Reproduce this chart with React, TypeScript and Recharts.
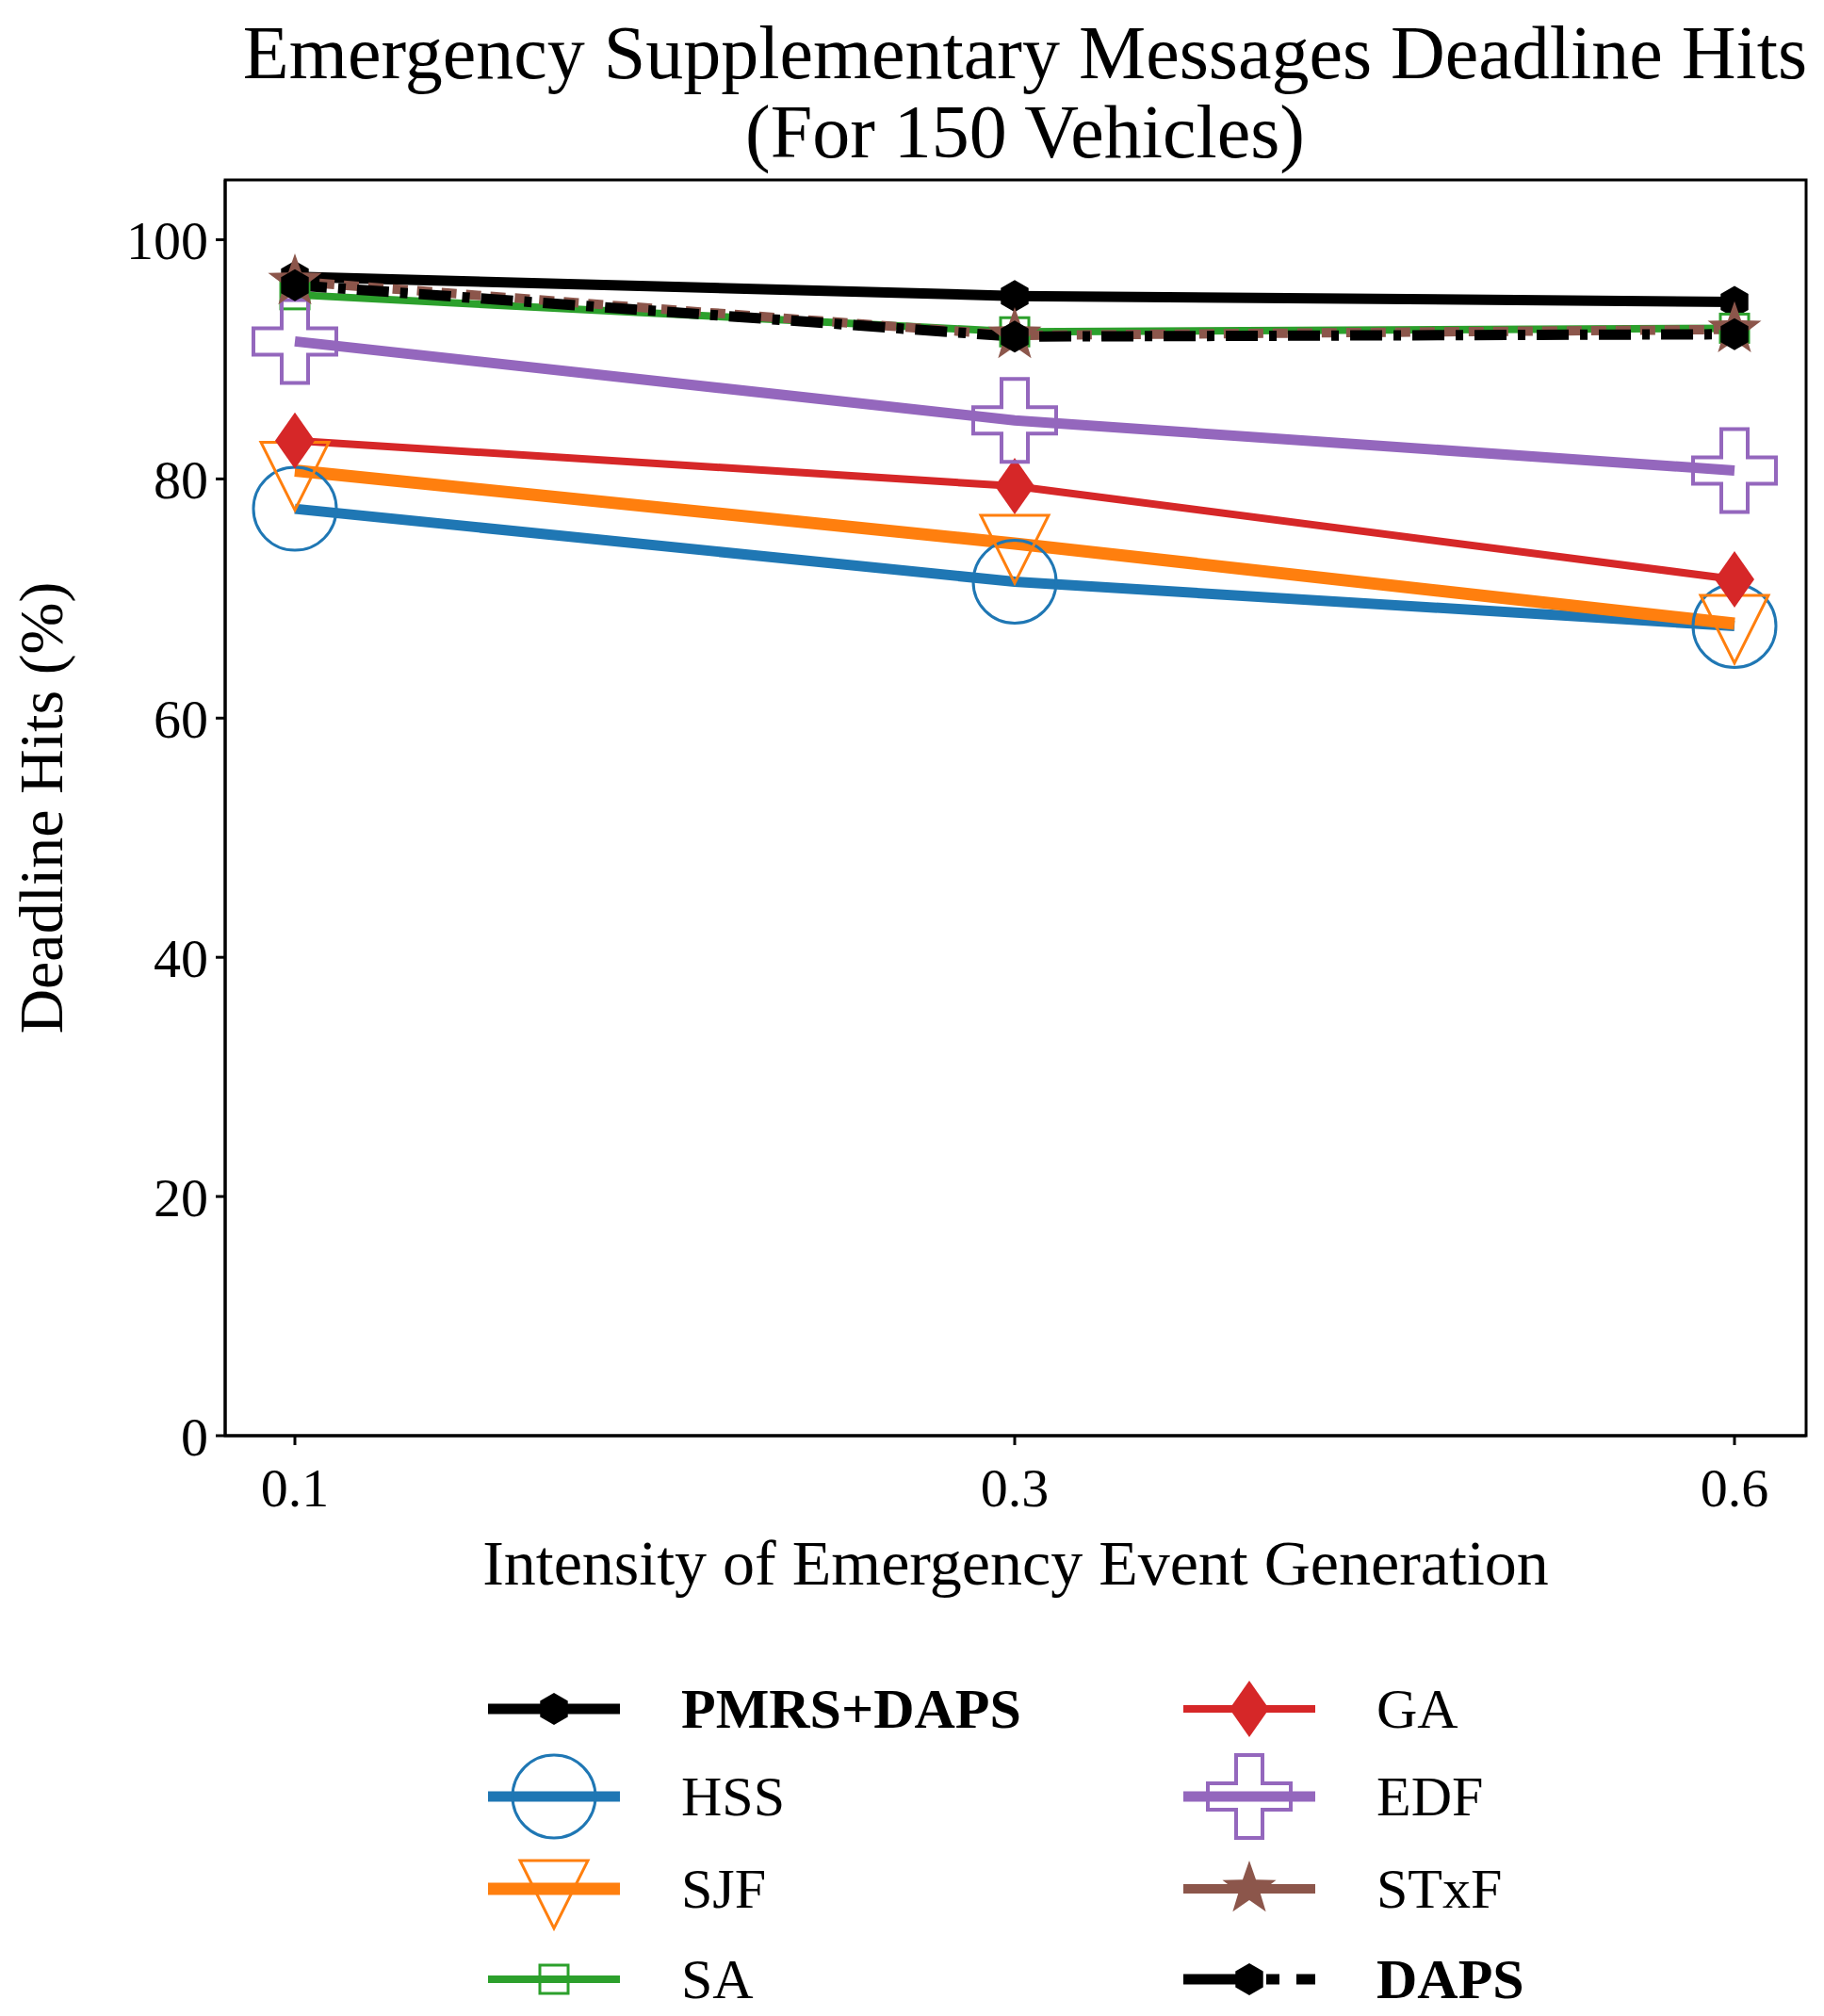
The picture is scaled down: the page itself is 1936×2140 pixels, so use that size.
import React from 'react';
import { LineChart, Line, XAxis, YAxis } from 'recharts';

const categories = ['0.1', '0.3', '0.6'];
const pmrsDaps = [96.9, 95.3, 94.8];
const hss = [77.5, 71.4, 67.7];
const sjf = [80.7, 74.6, 67.9];
const sa = [95.4, 92.3, 92.6];
const ga = [83.2, 79.4, 71.6];
const edf = [91.5, 84.9, 80.7];
const stxf = [96.5, 92.0, 92.5];
const daps = [96.2, 91.9, 92.1];
const yTicks = [0, 20, 40, 60, 80, 100];

const data = categories.map((c, i) => ({
  x: c, pmrs: pmrsDaps[i], hss: hss[i], sjf: sjf[i], sa: sa[i], ga: ga[i], edf: edf[i], stxf: stxf[i], daps: daps[i],
}));

const FONT = '"Liberation Serif", "DejaVu Serif", serif';

const hexPts = (cx: number, cy: number, r: number) =>
  Array.from({ length: 6 }, (_, k) => {
    const a = (Math.PI / 3) * k + Math.PI / 6;
    return `${cx + r * Math.cos(a)},${cy + r * Math.sin(a)}`;
  }).join(' ');
const starPts = (cx: number, cy: number, r: number) =>
  Array.from({ length: 10 }, (_, k) => {
    const a = -Math.PI / 2 + (Math.PI / 5) * k;
    const rr = k % 2 === 0 ? r : r * 0.4;
    return `${cx + rr * Math.cos(a)},${cy + rr * Math.sin(a)}`;
  }).join(' ');

const markers: Record<string, (cx: number, cy: number) => React.ReactElement> = {
  pmrs: (cx, cy) => <polygon points={hexPts(cx, cy, 17)} fill="#000" />,
  daps: (cx, cy) => <polygon points={hexPts(cx, cy, 17)} fill="#000" />,
  hss: (cx, cy) => <ellipse cx={cx} cy={cy} rx={44} ry={44} fill="none" stroke="#1f77b4" strokeWidth={3} />,
  sjf: (cx, cy) => <polygon points={`${cx - 36},${cy - 30} ${cx + 36},${cy - 30} ${cx},${cy + 42}`} fill="none" stroke="#ff7f0e" strokeWidth={3} />,
  sa: (cx, cy) => <rect x={cx - 15} y={cy - 15} width={30} height={30} fill="none" stroke="#2ca02c" strokeWidth={3} />,
  ga: (cx, cy) => <polygon points={`${cx},${cy - 30} ${cx + 21},${cy} ${cx},${cy + 30} ${cx - 21},${cy}`} fill="#d62728" />,
  edf: (cx, cy) => (
    <polygon
      points={`${cx - 14},${cy - 44} ${cx + 14},${cy - 44} ${cx + 14},${cy - 14} ${cx + 44},${cy - 14} ${cx + 44},${cy + 14} ${cx + 14},${cy + 14} ${cx + 14},${cy + 44} ${cx - 14},${cy + 44} ${cx - 14},${cy + 14} ${cx - 44},${cy + 14} ${cx - 44},${cy - 14} ${cx - 14},${cy - 14}`}
      fill="none" stroke="#9467bd" strokeWidth={4} />
  ),
  stxf: (cx, cy) => <polygon points={starPts(cx, cy, 30)} fill="#8c564b" />,
};

const series = [
  { key: 'pmrs', name: 'PMRS+DAPS', color: '#000', width: 11, dash: undefined as string | undefined, bold: true },
  { key: 'hss', name: 'HSS', color: '#1f77b4', width: 11, dash: undefined, bold: false },
  { key: 'sjf', name: 'SJF', color: '#ff7f0e', width: 13, dash: undefined, bold: false },
  { key: 'sa', name: 'SA', color: '#2ca02c', width: 8, dash: undefined, bold: false },
  { key: 'ga', name: 'GA', color: '#d62728', width: 8, dash: undefined, bold: false },
  { key: 'edf', name: 'EDF', color: '#9467bd', width: 11, dash: undefined, bold: false },
  { key: 'stxf', name: 'STxF', color: '#8c564b', width: 10, dash: '16 10', bold: false },
  { key: 'daps', name: 'DAPS', color: '#000', width: 11, dash: '34 12 8 12', bold: true },
];

const legendCols = [
  ['pmrs', 'hss', 'sjf', 'sa'],
  ['ga', 'edf', 'stxf', 'daps'],
];
const legendRows = [1806, 1899, 1997, 2093];
const legendColX = [580, 1318];

const PLOT = { left: 231, right: 1909, top: 183, bottom: 1516 };

export default function App() {
  return (
    <div style={{ position: 'relative', width: 1920, height: 2132, fontFamily: FONT, background: '#fff' }}>
      <div style={{ position: 'absolute', left: 220, width: 1720, top: 6, textAlign: 'center', fontSize: 80, lineHeight: '84px', color: '#000' }}>
        Emergency Supplementary Messages Deadline Hits<br />(For 150 Vehicles)
      </div>
      <LineChart width={1920} height={2132} data={data} margin={{ top: 183, right: 11, bottom: 416, left: 0 }}>
        <XAxis dataKey="x" type="category" padding={{ left: 74, right: 76 }} height={200}
          axisLine={{ stroke: '#000', strokeWidth: 3 }} tickLine={{ stroke: '#000', strokeWidth: 3 }} tickSize={10}
          tick={{ fill: '#000', fontSize: 58, fontFamily: FONT, dy: 22 }}
          label={{ value: 'Intensity of Emergency Event Generation', position: 'insideTop', dy: 105, fill: '#000', fontSize: 68, fontFamily: FONT }} />
        <YAxis domain={[0, 105]} ticks={yTicks} width={231} interval={0}
          axisLine={{ stroke: '#000', strokeWidth: 3 }} tickLine={{ stroke: '#000', strokeWidth: 3 }} tickSize={10}
          tick={{ fill: '#000', fontSize: 58, fontFamily: FONT, dx: -6 }}
          label={{ value: 'Deadline Hits (%)', angle: -90, position: 'insideLeft', dx: 30, fill: '#000', fontSize: 66, fontFamily: FONT, style: { textAnchor: 'middle' } }} />
        {series.map((s) => (
          <Line key={s.key} dataKey={s.key} name={s.name} stroke={s.color} strokeWidth={s.width}
            strokeDasharray={s.dash} isAnimationActive={false}
            dot={(p: any) => <g key={`${s.key}-${p.index}`}>{markers[s.key](p.cx, p.cy)}</g>}
            activeDot={false} />
        ))}
      </LineChart>
      <svg style={{ position: 'absolute', left: 0, top: 0, pointerEvents: 'none' }} width={1920} height={2132}>
        <rect x={PLOT.left} y={PLOT.top} width={PLOT.right - PLOT.left} height={PLOT.bottom - PLOT.top}
          fill="none" stroke="#000" strokeWidth={3} />
        {legendCols.map((col, ci) =>
          col.map((k, ri) => {
            const s = series.find((q) => q.key === k)!;
            const cx = legendColX[ci];
            const cy = legendRows[ri];
            return (
              <g key={k}>
                <line x1={cx - 70} x2={cx + 70} y1={cy} y2={cy} stroke={s.color} strokeWidth={s.width}
                  strokeDasharray={k === 'daps' ? '70 18 14 18' : k === 'stxf' ? undefined : s.dash} />
                {markers[k](cx, cy)}
                <text x={cx + 135} y={cy + 20} fontSize={60} fontFamily={FONT} fontWeight={s.bold ? 'bold' : 'normal'} fill="#000">{s.name}</text>
              </g>
            );
          })
        )}
      </svg>
    </div>
  );
}
